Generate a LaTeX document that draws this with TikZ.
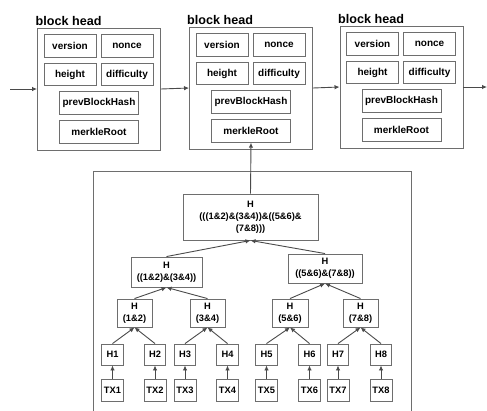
\documentclass[tikz,border=0pt]{standalone}
\usepackage{fontspec}
\setmainfont{Liberation Sans}
\usetikzlibrary{arrows.meta}

\definecolor{linegray}{HTML}{4A4A4A}
\definecolor{boxgray}{HTML}{6E6E6E}

\tikzset{
  blockbox/.style = {draw = boxgray, line width = .9pt, minimum width = 123pt, minimum height = 122pt},
  blocktitle/.style = {anchor = base west, inner sep = 0pt, font = \fontsize{12.6}{14}\selectfont\bfseries},
  field/.style = {draw = boxgray, line width = .9pt, inner sep = 1pt, minimum height = 22.5pt,
                  minimum width = 52pt, font = \fontsize{10}{12}\selectfont\bfseries},
  widefield/.style = {field, minimum width = 79pt},
  hashbox/.style = {draw = boxgray, line width = .9pt, inner sep = 1pt, align = center,
                    font = \fontsize{9.3}{12}\selectfont\bfseries},
  link/.style = {->, draw = linegray, line width = .9pt},
}

\begin{document}
\begin{tikzpicture}[x = 1pt, y = -1pt, >= {Latex[length = 5pt, width = 4.5pt]}]
    \useasboundingbox (0, 0) rectangle (487, 410);

    % three block heads
    \node (b1) at ( 99, 89) [blockbox] {};
    \node (t1) at (35.5, 25) [blocktitle] {block head};
    \node (v1) at ( 70, 46) [field] {version};
    \node (n1) at (127, 46) [field] {nonce};
    \node (h1) at ( 70, 74.5) [field] {height};
    \node (d1) at (127, 74.5) [field] {difficulty};
    \node (p1) at ( 99, 103) [widefield] {prevBlockHash};
    \node (m1) at ( 99, 132) [widefield] {merkleRoot};

    \node (b2) at (251, 88) [blockbox] {};
    \node (t2) at (187, 24.3) [blocktitle] {block head};
    \node (v2) at (222, 45) [field] {version};
    \node (n2) at (279, 45) [field] {nonce};
    \node (h2) at (222, 73.5) [field] {height};
    \node (d2) at (279, 73.5) [field] {difficulty};
    \node (p2) at (251, 102) [widefield] {prevBlockHash};
    \node (m2) at (251, 131) [widefield] {merkleRoot};

    \node (b3) at (401.5, 87) [blockbox] {};
    \node (t3) at (338, 23.3) [blocktitle] {block head};
    \node (v3) at (372.5, 44) [field] {version};
    \node (n3) at (429.5, 44) [field] {nonce};
    \node (h3) at (372.5, 72.5) [field] {height};
    \node (d3) at (429.5, 72.5) [field] {difficulty};
    \node (p3) at (401.5, 101) [widefield] {prevBlockHash};
    \node (m3) at (401.5, 130) [widefield] {merkleRoot};

    \coordinate (in) at (10, 89);
    \coordinate (out) at (487, 87);
    \draw [link] (in) -- (b1.west);
    \draw [link] (b1.east) -- (b2.west);
    \draw [link] (b2.east) -- (b3.west);
    \draw [link] (b3.east) -- (out);

    % merkle tree
    \node (tree) at (252, 293) [draw = boxgray, line width = .9pt, minimum width = 318pt, minimum height = 243pt] {};
    \node (root) at (250.5, 217) [hashbox, minimum width = 135pt, minimum height = 46pt]
        {H\\(((1\&2)\&(3\&4))\&((5\&6)\&\\(7\&8)))};
    \node (hl) at (166.5, 272) [hashbox, minimum width = 71pt, minimum height = 30pt] {H\\((1\&2)\&(3\&4))};
    \node (hr) at (325, 268.5) [hashbox, minimum width = 74pt, minimum height = 29pt] {H\\((5\&6)\&(7\&8))};
    \node (h12) at (134.5, 313) [hashbox, minimum width = 35pt, minimum height = 28pt] {H\\(1\&2)};
    \node (h34) at (207.5, 313) [hashbox, minimum width = 35pt, minimum height = 28pt] {H\\(3\&4)};
    \node (h56) at (290, 313) [hashbox, minimum width = 36pt, minimum height = 28pt] {H\\(5\&6)};
    \node (h78) at (360.5, 313) [hashbox, minimum width = 35pt, minimum height = 28pt] {H\\(7\&8)};

    \node (H1) at (112.5, 354.5) [hashbox, minimum width = 21.5pt, minimum height = 21pt] {H1};
    \node (H2) at (155, 354.5) [hashbox, minimum width = 21.5pt, minimum height = 21pt] {H2};
    \node (H3) at (185, 354.5) [hashbox, minimum width = 21.5pt, minimum height = 21pt] {H3};
    \node (H4) at (227.5, 354.5) [hashbox, minimum width = 21.5pt, minimum height = 21pt] {H4};
    \node (H5) at (266.5, 354.5) [hashbox, minimum width = 21.5pt, minimum height = 21pt] {H5};
    \node (H6) at (309.5, 354.5) [hashbox, minimum width = 21.5pt, minimum height = 21pt] {H6};
    \node (H7) at (338, 354.5) [hashbox, minimum width = 21.5pt, minimum height = 21pt] {H7};
    \node (H8) at (381, 354.5) [hashbox, minimum width = 21.5pt, minimum height = 21pt] {H8};

    \node (TX1) at (112.5, 390) [hashbox, minimum width = 22pt, minimum height = 22pt] {TX1};
    \node (TX2) at (155, 390) [hashbox, minimum width = 22pt, minimum height = 22pt] {TX2};
    \node (TX3) at (185, 390) [hashbox, minimum width = 22pt, minimum height = 22pt] {TX3};
    \node (TX4) at (227.5, 390) [hashbox, minimum width = 22pt, minimum height = 22pt] {TX4};
    \node (TX5) at (266.5, 390) [hashbox, minimum width = 22pt, minimum height = 22pt] {TX5};
    \node (TX6) at (309.5, 390) [hashbox, minimum width = 22pt, minimum height = 22pt] {TX6};
    \node (TX7) at (338, 390) [hashbox, minimum width = 22pt, minimum height = 22pt] {TX7};
    \node (TX8) at (381, 390) [hashbox, minimum width = 22pt, minimum height = 22pt] {TX8};

    \draw [link] (TX1) -- (H1);
    \draw [link] (TX2) -- (H2);
    \draw [link] (TX3) -- (H3);
    \draw [link] (TX4) -- (H4);
    \draw [link] (TX5) -- (H5);
    \draw [link] (TX6) -- (H6);
    \draw [link] (TX7) -- (H7);
    \draw [link] (TX8) -- (H8);

    \draw [link] (H1.north) -- (h12.south);
    \draw [link] (H2.north) -- (h12.south);
    \draw [link] (H3.north) -- (h34.south);
    \draw [link] (H4.north) -- (h34.south);
    \draw [link] (H5.north) -- (h56.south);
    \draw [link] (H6.north) -- (h56.south);
    \draw [link] (H7.north) -- (h78.south);
    \draw [link] (H8.north) -- (h78.south);

    \draw [link] (h12.north) -- (hl.south);
    \draw [link] (h34.north) -- (hl.south);
    \draw [link] (h56.north) -- (hr.south);
    \draw [link] (h78.north) -- (hr.south);

    \draw [link] (hl.north) -- (root.south);
    \draw [link] (hr.north) -- (root.south);
    \draw [link] (root.north) -- (m2.south);
\end{tikzpicture}
\end{document}
